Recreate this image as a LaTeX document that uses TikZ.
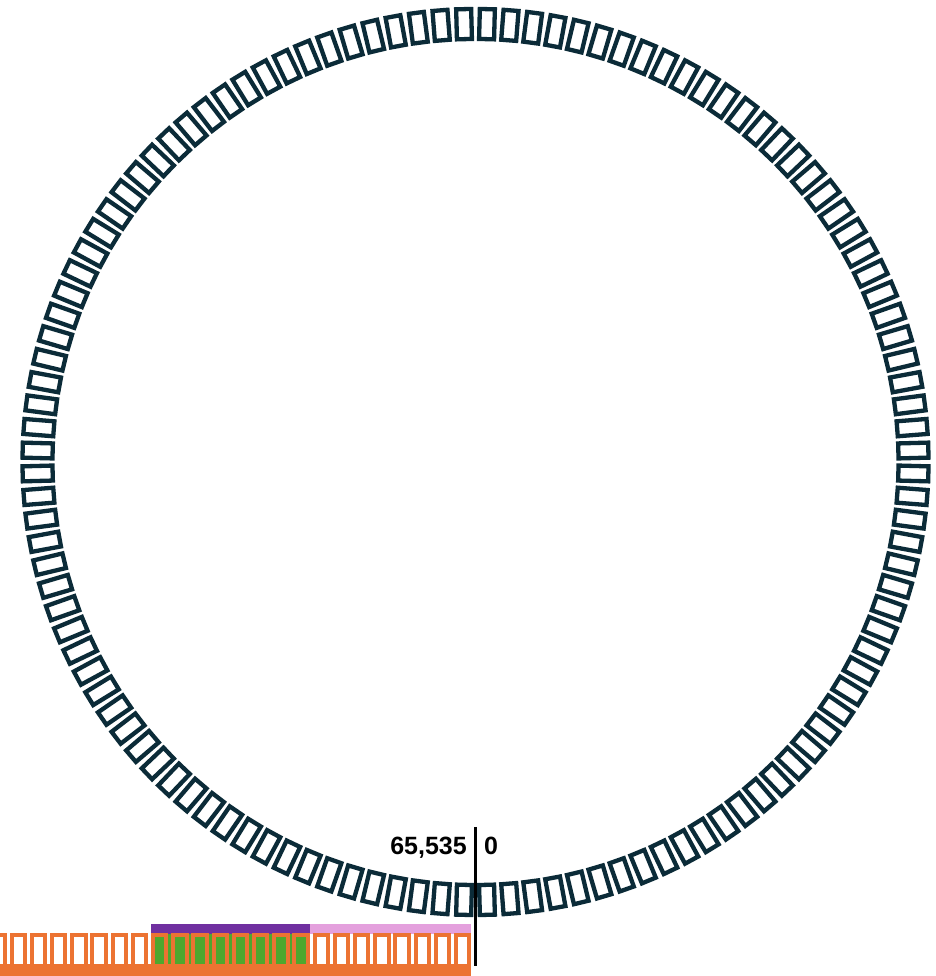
\documentclass[tikz,border=0pt]{standalone}
\usepackage{fontspec}
\setmainfont{Liberation Sans}
\definecolor{ringc}{HTML}{0B2B38}
\definecolor{orangec}{HTML}{EC7332}
\definecolor{purplec}{HTML}{7030A0}
\definecolor{pinkc}{HTML}{E4A0DD}
\definecolor{greenc}{HTML}{4EA72E}
\tikzset{
  ringbox/.style={draw=ringc, line width=4.3pt, fill=white},
  barbox/.style={draw=orangec, line width=4pt, fill=white},
  greenbox/.style={draw=orangec, line width=4pt},
  lbl/.style={font=\bfseries\fontsize{25}{25}\selectfont, inner sep=0pt, text=black},
}
\begin{document}
\begin{tikzpicture}[x=1pt,y=1pt]
\useasboundingbox[fill=white] (0,0) rectangle (935,976);
% ring of 120 boxes
\begin{scope}[shift={(475.5,514)}]
  \foreach \i in {0,...,119}{
    \draw[ringbox, rotate={-88.5+3*\i}] (423,-7.5) rectangle (453,7.5);
  }
\end{scope}
% bars above the strip
\fill[purplec] (151,976-924) rectangle (309.5,976-934);
\fill[pinkc] (309.5,976-924) rectangle (471,976-934);
\fill[greenc] (151,976-934) rectangle (309.5,976-965);
% orange boxes
\foreach \k in {0,...,23}{
  \pgfmathsetmacro{\xa}{151+(\k-8)*20.2+2}
  \pgfmathsetmacro{\xb}{\xa+13.4}
  \ifnum\k>7 \ifnum\k<16
    \draw[greenbox] (\xa,976-935) rectangle (\xb,976-966);
  \else
    \draw[barbox] (\xa,976-935) rectangle (\xb,976-966);
  \fi\else
    \draw[barbox] (\xa,976-935) rectangle (\xb,976-966);
  \fi
}
\fill[orangec] (0,0) rectangle (471,976-964);
% zero marker
\coordinate (ltop) at (475.8,976-827);
\coordinate (lbot) at (475.8,976-966);
\draw[line width=3.2pt, black] (ltop) -- (lbot);
\node[lbl, anchor=base east] (lmax) at (467,976-855) {65,535};
\node[lbl, anchor=base west] (lzero) at (484,976-855) {0};
\end{tikzpicture}
\end{document}
